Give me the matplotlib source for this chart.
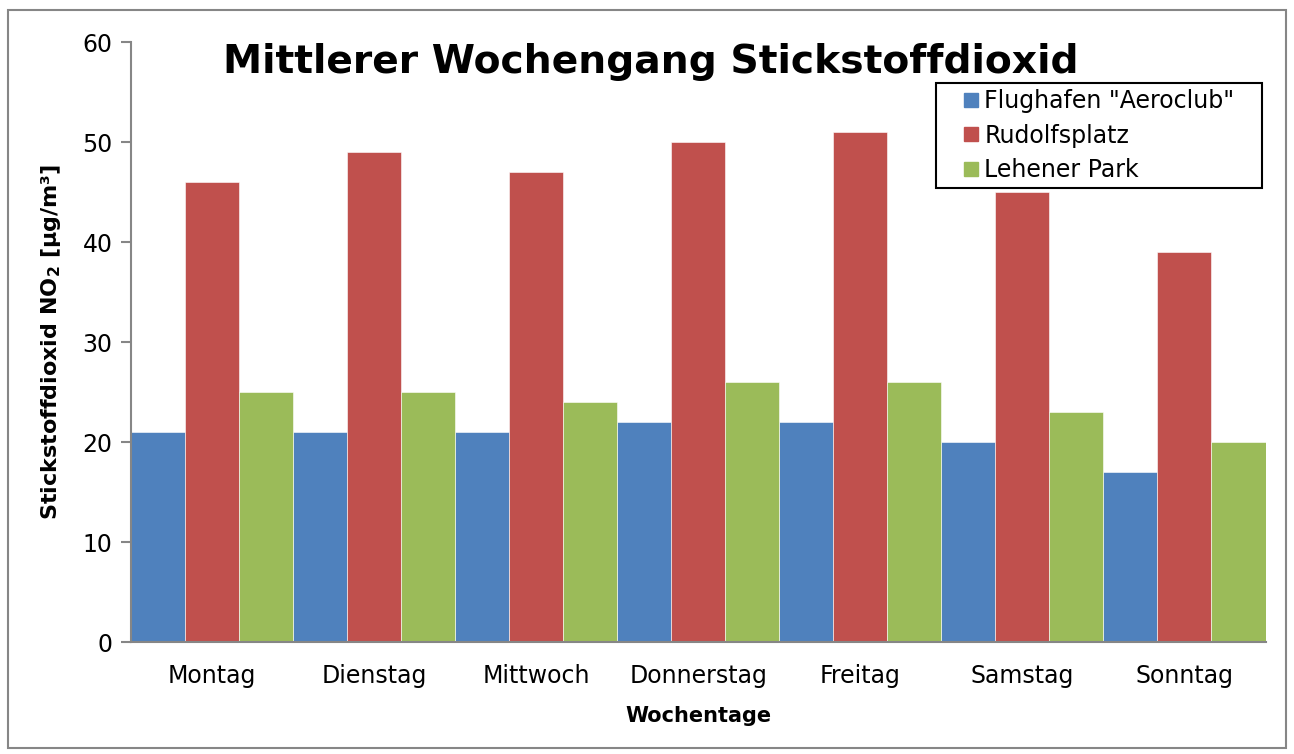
import matplotlib.pyplot as plt
import numpy as np
from matplotlib.patches import Rectangle
from matplotlib.lines import Line2D

tage = ["Montag", "Dienstag", "Mittwoch", "Donnerstag", "Freitag", "Samstag", "Sonntag"]
flughafen = [21, 21, 21, 22, 22, 20, 17]
rudolfsplatz = [46, 49, 47, 50, 51, 45, 39]
lehener = [25, 25, 24, 26, 26, 23, 20]
namen = ['Flughafen "Aeroclub"', "Rudolfsplatz", "Lehener Park"]
farben = ["#4F81BD", "#C0504D", "#9BBB59"]

fig = plt.figure(figsize=(12.94, 7.54), dpi=100)
ax = fig.add_axes([0.101, 0.1485, 0.877, 0.7955])

x = np.arange(len(tage))
w = 1 / 3
for i, (vals, name, col) in enumerate(zip([flughafen, rudolfsplatz, lehener], namen, farben)):
    ax.bar(x + (i - 1) * w, vals, w, color=col, label=name, edgecolor="white", linewidth=0.4)

ax.set_xlim(-0.5, 6.5)
ax.set_ylim(0, 60)
ax.set_yticks(range(0, 61, 10))
ax.set_xticks(x)
ax.set_xticklabels(tage)
ax.tick_params(axis="x", length=0, pad=16, labelsize=17)
ax.tick_params(axis="y", length=7, width=1.5, color="#868686", labelsize=17, pad=6)
for s in ["top", "right"]:
    ax.spines[s].set_visible(False)
for s in ["left", "bottom"]:
    ax.spines[s].set_color("#868686")
    ax.spines[s].set_linewidth(1.5)

ax.set_xlabel("Wochentage", fontsize=15, fontweight="bold", labelpad=13)
ax.set_ylabel("Stickstoffdioxid NO$_\\mathbf{2}$ [µg/m³]", fontsize=16, fontweight="bold", labelpad=14)

fig.text(0.503, 0.918, "Mittlerer Wochengang Stickstoffdioxid", fontsize=28.3, fontweight="bold",
         ha="center", va="center")

handles = [Line2D([], [], linestyle="none", marker="s", markersize=10, color=c) for c in farben]
leg = fig.legend(handles, namen, loc="upper left", bbox_to_anchor=(0.7233, 0.7573, 0.252, 0.1326),
                 bbox_transform=fig.transFigure, mode="expand", fontsize=17, frameon=True,
                 fancybox=False, edgecolor="black", handlelength=2.5, handletextpad=-0.7,
                 borderpad=0.25, labelspacing=0.45, borderaxespad=0)
leg.get_frame().set_linewidth(1.5)
leg.get_frame().set_alpha(1)

fig.patches.append(Rectangle((0.006, 0.008), 0.988, 0.979, transform=fig.transFigure,
                             fill=False, edgecolor="#868686", linewidth=1.5))

fig.savefig("out.png", dpi=100)
